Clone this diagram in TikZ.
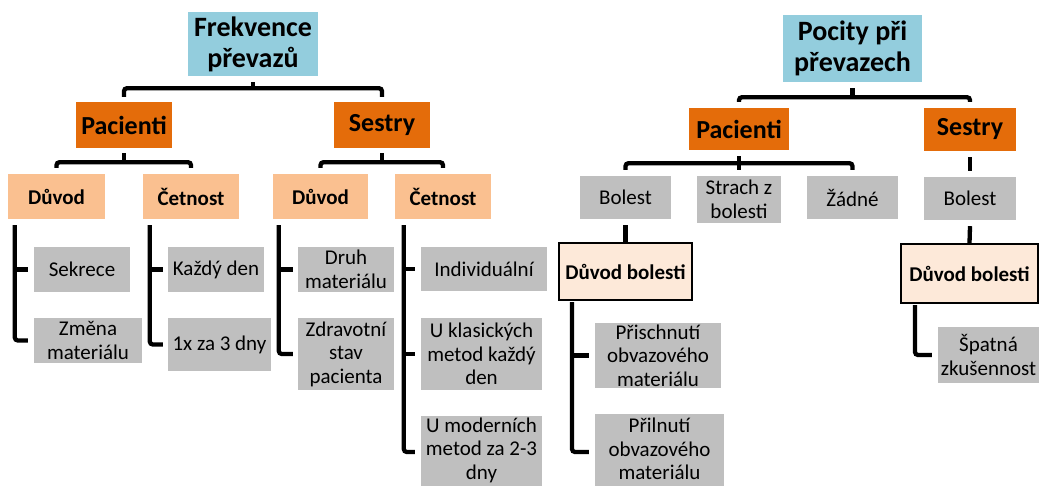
\documentclass[tikz,border=0pt]{standalone}
\usepackage{fontspec}
\setmainfont{Carlito}
\definecolor{grayc}{HTML}{BFBFBF}
\definecolor{orangec}{HTML}{E46C0A}
\definecolor{lorange}{HTML}{FAC090}
\definecolor{bluec}{HTML}{93CDDD}
\definecolor{palec}{HTML}{FDE9D9}
\begin{document}
\begin{tikzpicture}[x=1pt,y=1pt,
  box/.style={inner sep=0pt, align=center},
  gbox/.style={box, fill=grayc, font=\fontsize{21}{23.5}\selectfont},
  titlebox/.style={box, fill=bluec, font=\bfseries\fontsize{28}{31}\selectfont},
  lvlone/.style={box, fill=orangec, font=\bfseries\fontsize{26}{30}\selectfont},
  lvltwo/.style={box, fill=lorange, font=\bfseries\fontsize{21}{24}\selectfont},
  dbox/.style={box, fill=palec, draw=black, line width=2pt, font=\bfseries\fontsize{21}{24}\selectfont},
  conn/.style={line width=4.3pt, rounded corners=3pt},
  sz/.style n args={2}{minimum width=#1pt, minimum height=#2pt}
]
\useasboundingbox (0,0) rectangle (1040,-486);

% ---------- left tree ----------
\node[titlebox, sz={130}{64}] (F) at (253,-44) {Frekvence\\převazů};
\node[lvlone, sz={96}{46}] (pacL) at (124,-125) {Pacienti};
\node[lvlone, sz={96}{46}] (sesL) at (382,-125) {Sestry};
\node[lvltwo, sz={97}{45}] (d1) at (56.5,-196.5) {Důvod};
\node[lvltwo, sz={96}{45}] (c1) at (191,-196.5) {Četnost};
\node[lvltwo, sz={95}{45}] (d2) at (320.5,-196.5) {Důvod};
\node[lvltwo, sz={96}{45}] (c2) at (443,-196.5) {Četnost};

\node[gbox, sz={96}{45}] (sek) at (82,-269.5) {Sekrece};
\node[gbox, sz={108}{45}] (zm) at (88,-340.5) {Změna\\materiálu};
\node[gbox, sz={96}{45}] (kd) at (216,-269.5) {Každý den};
\node[gbox, sz={103}{53}] (x3) at (219.5,-344.5) {1x za 3 dny};
\node[gbox, sz={96}{45}] (dm) at (346,-269.5) {Druh\\materiálu};
\node[gbox, sz={96}{72}] (zs) at (346,-354) {Zdravotní\\stav\\pacienta};
\node[gbox, sz={126}{44}] (ind) at (484,-269) {Individuální};
\node[gbox, sz={121}{72}] (uk) at (481.5,-354) {U klasických\\metod každý\\den};
\node[gbox, sz={121}{68}] (um) at (481.5,-450) {U moderních\\metod za 2-3\\dny};
\fill[grayc] (um.south west) rectangle ([yshift=-12pt]um.south east);

% connectors left
\coordinate (fb) at ([yshift=-12pt]F.south);
\draw[conn] ([yshift=-6pt]F.south) -- (fb);
\draw[conn] ([yshift=5pt]pacL.north) |- (fb) -| ([yshift=5pt]sesL.north);

\coordinate (pb) at ([yshift=-14pt]pacL.south);
\draw[conn] ([yshift=-5pt]pacL.south) -- (pb);
\draw[conn] ([yshift=6pt]d1.north) |- (pb) -| ([yshift=6pt]c1.north);

\coordinate (sb) at ([yshift=-14pt]sesL.south);
\draw[conn] ([yshift=-5pt]sesL.south) -- (sb);
\draw[conn] ([yshift=6pt]d2.north) |- (sb) -| ([yshift=6pt]c2.north);

\coordinate (d1v) at ([xshift=7pt,yshift=-6pt]d1.south west);
\draw[conn] (d1v) |- ([xshift=-6pt]zm.west);
\draw[conn] (d1v |- sek.west) -- ([xshift=-6pt]sek.west);

\coordinate (c1v) at ([xshift=7pt,yshift=-6pt]c1.south west);
\draw[conn] (c1v) |- ([xshift=-5pt]x3.west);
\draw[conn] (c1v |- kd.west) -- ([xshift=-5pt]kd.west);

\coordinate (d2v) at ([xshift=6pt,yshift=-6pt]d2.south west);
\draw[conn] (d2v) |- ([xshift=-5pt]zs.west);
\draw[conn] (d2v |- dm.west) -- ([xshift=-5pt]dm.west);

\coordinate (c2v) at ([xshift=9pt,yshift=-6pt]c2.south west);
\coordinate (umt) at (um.west |- 0,-452);
\draw[conn] (c2v) |- ([xshift=-6pt]umt);
\draw[conn] (c2v |- ind.west) -- ([xshift=-6pt]ind.west);
\draw[conn] (c2v |- uk.west) -- ([xshift=-6pt]uk.west);

% ---------- right tree ----------
\node[titlebox, sz={139}{67}] (P) at (852.5,-48.5) {Pocity při\\převazech};
\node[lvlone, sz={100}{42}] (pacR) at (739,-129) {Pacienti};
\node[lvlone, sz={92}{43}] (sesR) at (970,-129.5) {Sestry};
\node[gbox, sz={91}{43}] (b1) at (625.5,-197.5) {Bolest};
\node[gbox, sz={84}{47}] (st) at (739,-199.5) {Strach z\\bolesti};
\node[gbox, sz={91}{43}] (za) at (852.5,-197.5) {Žádné};
\node[gbox, sz={92}{43}] (b2) at (970,-198.5) {Bolest};
\node[dbox, sz={133}{57}] (db1) at (625.5,-271.5) {Důvod bolesti};
\node[dbox, sz={137}{59}] (db2) at (969.5,-273.5) {Důvod bolesti};
\node[gbox, sz={126}{65}] (pr1) at (658,-355.5) {Přischnutí\\obvazového\\materiálu};
\node[gbox, sz={129}{70}] (pr2) at (659.5,-449) {Přilnutí\\obvazového\\materiálu};
\fill[grayc] (pr2.south west) rectangle ([yshift=-12pt]pr2.south east);
\node[gbox, sz={101}{56}] (sp) at (988.5,-355) {Špatná\\zkušennost};

\coordinate (prb) at ([yshift=-15pt]P.south);
\draw[conn] ([yshift=-6pt]P.south) -- (prb);
\draw[conn] ([yshift=6pt]pacR.north) |- (prb) -| ([yshift=6pt]sesR.north);

\coordinate (pab) at ([yshift=-13pt]pacR.south);
\draw[conn] ([yshift=-6pt]pacR.south) -- ([yshift=6pt]st.north);
\draw[conn] ([yshift=6pt]b1.north) |- (pab) -| ([yshift=6pt]za.north);

\draw[conn] ([yshift=-6pt]sesR.south) -- ([yshift=6pt]b2.north);
\draw[conn] ([yshift=-6pt]b1.south) -- (db1.north);
\draw[conn] ([yshift=-6pt]b2.south) -- (db2.north);

\coordinate (db1v) at ([xshift=14pt,yshift=-1pt]db1.south west);
\coordinate (pr2t) at (pr2.west |- 0,-452);
\draw[conn] (db1v) |- ([xshift=-6pt]pr2t);
\draw[conn] (db1v |- pr1.west) -- ([xshift=-6pt]pr1.west);

\coordinate (db2v) at ([xshift=15pt,yshift=-1pt]db2.south west);
\draw[conn] (db2v) |- ([xshift=-6pt]sp.west);
\end{tikzpicture}
\end{document}
